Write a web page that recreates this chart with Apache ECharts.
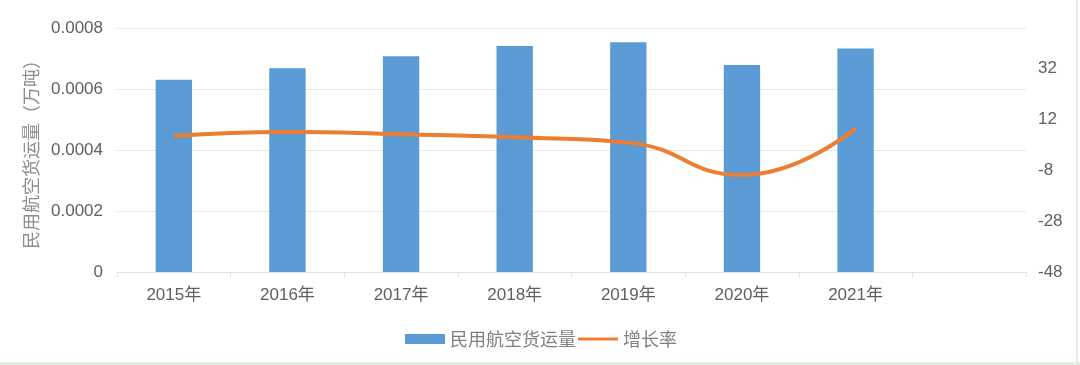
<!DOCTYPE html>
<html>
<head>
<meta charset="utf-8">
<script src="https://cdn.jsdelivr.net/npm/echarts@6/dist/echarts.min.js"></script>
<style>
html,body{margin:0;padding:0;background:#fff;}
#c{width:1080px;height:365px;}
</style>
</head>
<body>
<div id="c"></div>
<script>
const categories = ['2015年','2016年','2017年','2018年','2019年','2020年','2021年',''];
const cargoVolume = [0.000630, 0.000668, 0.000707, 0.000741, 0.000753, 0.000679, 0.000733, null];
const growthRate = [5.5, 7.1, 6.2, 5.0, 2.9, -9.8, 8.5, null];
const rightTicks = [-48, -28, -8, 12, 32];

const FONT = "'Liberation Sans','Noto Sans CJK SC',sans-serif";
const lineIcon = 'path://M0,0L0.01,0L0.01,0.01L0,0.01Z M0,3.6L40,3.6L40,6.6L0,6.6Z M0,10L0.01,10L0.01,10.01L0,10.01Z';
const chart = echarts.init(document.getElementById('c'));
chart.setOption({
  animation: false,
  backgroundColor: '#ffffff',
  grid: {left: 117, right: 54, top: 28, bottom: 93, containLabel: false},
  legend: {
    data: [
      {name: '民用航空货运量', icon: 'rect'},
      {name: '增长率', icon: lineIcon}
    ],
    left: 400, top: 325,
    itemWidth: 40, itemHeight: 10, itemGap: 2,
    textStyle: {color: '#808080', fontSize: 18, fontFamily: "'Noto Sans CJK SC',sans-serif"}
  },
  xAxis: {
    type: 'category',
    data: categories,
    boundaryGap: true,
    axisLine: {lineStyle: {color: '#e2e2e2', width: 1}},
    axisTick: {show: true, length: 5, lineStyle: {color: '#e2e2e2'}},
    axisLabel: {color: '#606060', fontSize: 17, margin: 15, fontFamily: FONT}
  },
  yAxis: [
    {
      type: 'value', min: 0, max: 0.0008, interval: 0.0002,
      name: '民用航空货运量（万吨）',
      nameLocation: 'middle', nameRotate: 90, nameGap: 76,
      nameTextStyle: {color: '#8c8c8c', fontSize: 18, fontFamily: "'Noto Sans CJK SC',sans-serif"},
      axisLine: {show: false}, axisTick: {show: false},
      axisLabel: {color: '#606060', fontSize: 17, margin: 14, fontFamily: FONT,
        formatter: v => v === 0 ? '0' : v.toFixed(4)},
      splitLine: {lineStyle: {color: '#e6e6e6', width: 1}}
    },
    {
      type: 'value', min: -48, max: 48,
      position: 'right',
      axisLine: {show: false}, axisTick: {show: false},
      splitLine: {show: false},
      axisLabel: {color: '#606060', fontSize: 17, margin: 12, fontFamily: FONT,
        customValues: rightTicks}
    }
  ],
  series: [
    {
      name: '民用航空货运量', type: 'bar', yAxisIndex: 0,
      data: cargoVolume, barWidth: '32%',
      itemStyle: {color: '#5B9BD5'}
    },
    {
      name: '增长率', type: 'line', yAxisIndex: 1,
      data: growthRate, smooth: true, symbol: 'none',
      lineStyle: {color: '#ED7D31', width: 4},
      itemStyle: {color: '#ED7D31'}
    }
  ],
  graphic: [
    {type: 'rect', shape: {x: 1076, y: 0, width: 2, height: 365}, style: {fill: '#ececec'}, silent: true},
    {type: 'rect', shape: {x: 0, y: 362, width: 1080, height: 3}, style: {fill: '#dff0dc'}, silent: true}
  ]
});
</script>
</body>
</html>
